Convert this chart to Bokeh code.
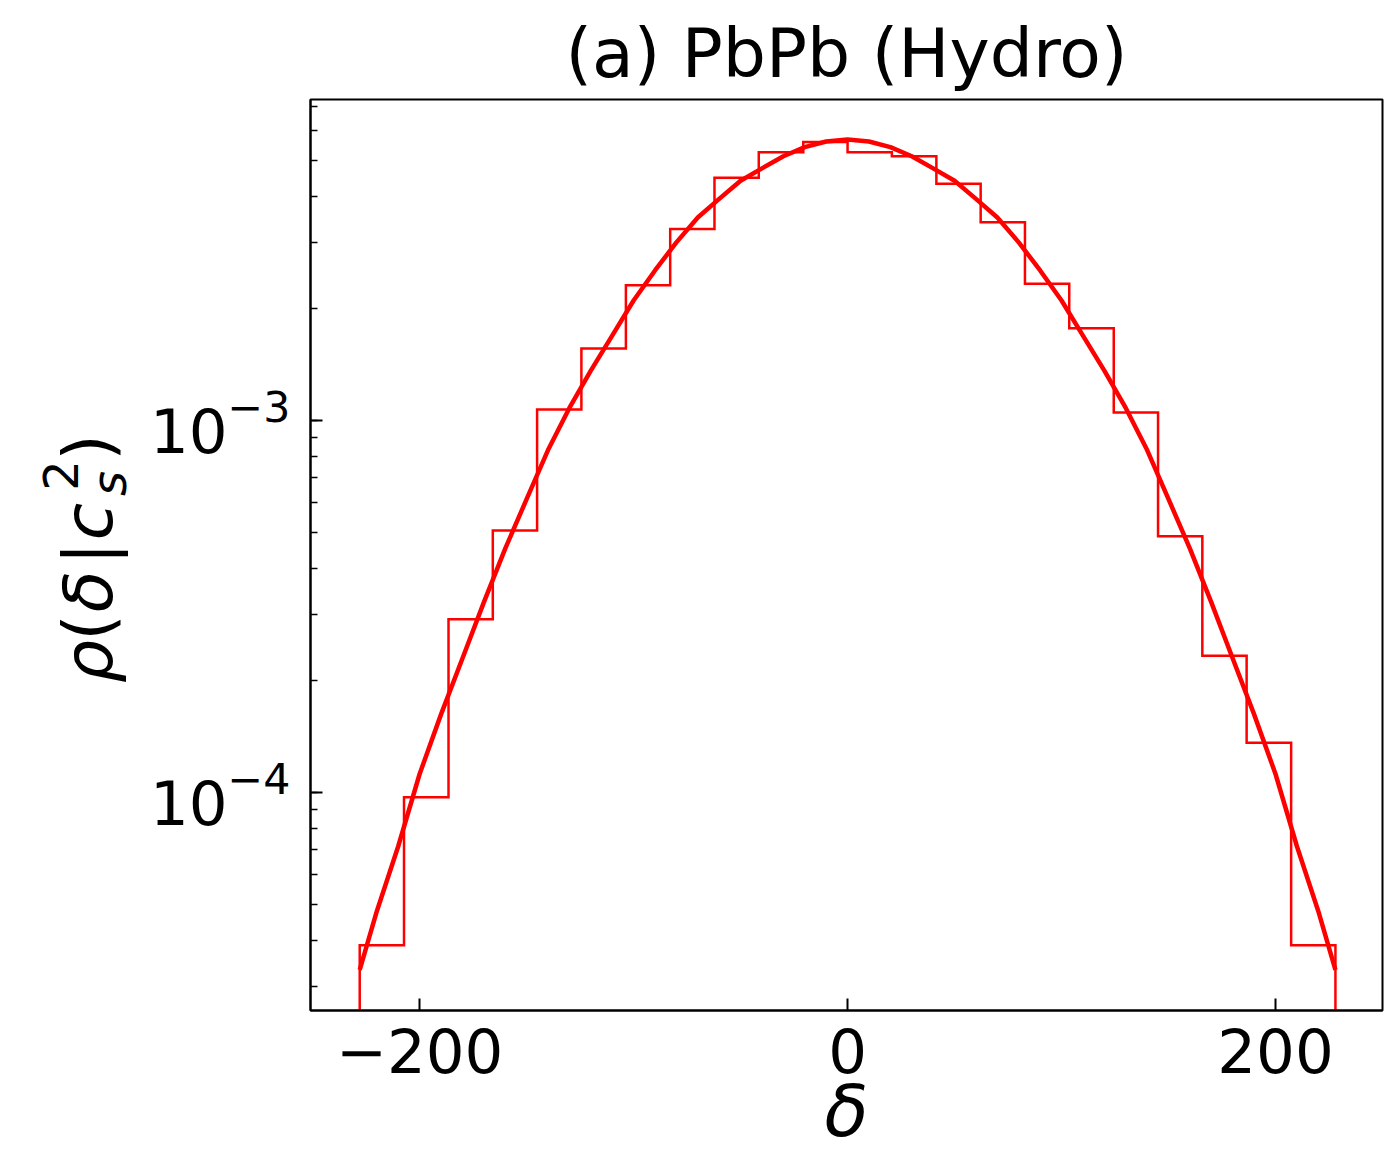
import math
from bokeh.plotting import figure
from bokeh.layouts import row
from bokeh.models import Range1d, Label, FixedTicker
from bokeh.embed import file_html
from bokeh.resources import INLINE

# ---------------- data ----------------
BIN_EDGES = [-228.0, -207.3, -186.5, -165.8, -145.1, -124.4, -103.6, -82.9, -62.2, -41.5, -20.7,
             0.0, 20.7, 41.5, 62.2, 82.9, 103.6, 124.4, 145.1, 165.8, 186.5, 207.3, 228.0]
HIST_DENSITY = [3.88e-5, 9.7e-5, 2.92e-4, 5.06e-4, 1.07e-3, 1.56e-3, 2.31e-3, 3.27e-3, 4.49e-3, 5.26e-3, 5.60e-3,
                5.26e-3, 5.13e-3, 4.33e-3, 3.41e-3, 2.33e-3, 1.77e-3, 1.05e-3, 4.88e-4, 2.33e-4, 1.36e-4, 3.88e-5]

CURVE_X = [-228, -220, -210, -200, -190, -180, -170, -160, -150, -140, -130, -120, -110, -100, -90, -80,
           -70, -60, -50, -40, -30, -20, -10, 0, 10, 20, 30, 40, 50, 60, 70, 80, 90, 100, 110, 120, 130,
           140, 150, 160, 170, 180, 190, 200, 210, 220, 228]
CURVE_Y = [3.33e-5, 4.79e-5, 7.16e-5, 1.12e-4, 1.62e-4, 2.29e-4, 3.24e-4, 4.52e-4, 6.14e-4, 8.32e-4,
           1.08e-3, 1.36e-3, 1.69e-3, 2.10e-3, 2.53e-3, 3.01e-3, 3.51e-3, 3.94e-3, 4.41e-3, 4.76e-3,
           5.13e-3, 5.43e-3, 5.62e-3, 5.69e-3, 5.62e-3, 5.43e-3, 5.13e-3, 4.76e-3, 4.41e-3, 3.94e-3,
           3.51e-3, 3.01e-3, 2.53e-3, 2.10e-3, 1.69e-3, 1.36e-3, 1.08e-3, 8.32e-4, 6.14e-4, 4.52e-4,
           3.24e-4, 2.29e-4, 1.62e-4, 1.12e-4, 7.16e-5, 4.79e-5, 3.33e-5]

X_TICKS = [-200, 0, 200]
X_TICK_LABELS = ["\u2212200", "0", "200"]

TITLE = "(a) PbPb (Hydro)"
X_LABEL = "\u03b4"

X_START, X_END = -251.0, 250.0
Y_START, Y_END = 2.59e-5, 7.29e-3

# ---------------- layout ----------------
TOTAL_W, TOTAL_H = 1384, 1157
LEFT_W = 140                      # strip holding the rotated y label
FL, FR, FT, FB = 310, 1382, 99, 1010   # frame in page pixels
FONT = "DejaVu Sans"
RED = "#ff0000"

W = TOTAL_W - LEFT_W
p = figure(width=W, height=TOTAL_H, x_range=Range1d(X_START, X_END), y_range=Range1d(Y_START, Y_END),
           y_axis_type="log", output_backend="svg", toolbar_location=None,
           min_border_left=FL - LEFT_W, min_border_right=TOTAL_W - FR,
           min_border_top=FT, min_border_bottom=TOTAL_H - FB)
p.xgrid.visible = False
p.ygrid.visible = False
p.outline_line_color = "black"
p.outline_line_width = 2
p.outline_line_alpha = 1.0
p.background_fill_color = "white"
p.border_fill_color = "white"

# title
p.title.text = TITLE
p.title.align = "center"
p.title.text_font = FONT
p.title.text_font_size = "68px"
p.title.text_font_style = "normal"
p.title.text_color = "black"
p.title.standoff = 13

# step histogram (edges drop to the baseline, clipped by the frame)
floor = 1e-7
hx, hy = [BIN_EDGES[0]], [floor]
for i, h in enumerate(HIST_DENSITY):
    hx += [BIN_EDGES[i], BIN_EDGES[i + 1]]
    hy += [h, h]
hx.append(BIN_EDGES[-1])
hy.append(floor)
p.line(hx, hy, line_color=RED, line_width=2.5, line_join="miter")

# smooth curve
p.line(CURVE_X, CURVE_Y, line_color=RED, line_width=4.5, line_join="round")

# axes styling
for ax in (p.xaxis[0], p.yaxis[0]):
    ax.axis_line_width = 2
    ax.axis_line_color = "black"
    ax.major_tick_in = 12
    ax.major_tick_out = 0
    ax.major_tick_line_width = 2
    ax.major_tick_line_color = "black"
    ax.minor_tick_in = 7
    ax.minor_tick_out = 0
    ax.minor_tick_line_width = 1.5
    ax.minor_tick_line_color = "black"
    ax.major_label_text_font = FONT
    ax.major_label_text_font_size = "61px"
    ax.major_label_text_color = "black"

p.xaxis.ticker = FixedTicker(ticks=X_TICKS)
p.xaxis.minor_tick_line_color = None
p.xaxis.major_label_overrides = {t: s for t, s in zip(X_TICKS, X_TICK_LABELS)}
p.xaxis.major_label_standoff = 17
p.yaxis.major_label_standoff = 20

p.xaxis.axis_label = X_LABEL
p.xaxis.axis_label_text_font = FONT
p.xaxis.axis_label_text_font_size = "72px"
p.xaxis.axis_label_text_font_style = "italic"
p.xaxis.axis_label_text_color = "black"
p.xaxis.axis_label_standoff = -7

# ---------------- left strip with the y label  rho(delta | c_s^2) ----------------
# the strip's frame is aligned with the main frame (FT..FB), so its y data equals page y
q = figure(width=LEFT_W, height=TOTAL_H, x_range=Range1d(0, LEFT_W), y_range=Range1d(FB, FT),
           output_backend="svg", toolbar_location=None,
           min_border_left=0, min_border_right=0, min_border_top=FT, min_border_bottom=TOTAL_H - FB)
q.axis.visible = False
q.grid.visible = False
q.outline_line_color = None
q.background_fill_color = "white"
q.border_fill_color = "white"

pieces = [  # text, centre along the label (page y), centre across (page x), size, style
    ("\u03c1", 661, 88, 68, "italic"),
    ("(", 627, 88, 68, "normal"),
    ("\u03b4", 591, 88, 68, "italic"),
    ("|", 553, 88, 68, "normal"),
    ("c", 521, 88, 68, "italic"),
    ("2", 475, 60, 48, "normal"),
    ("s", 483, 108, 48, "italic"),
    (")", 447, 88, 68, "normal"),
]
for t, sy, sx, fs, st in pieces:
    q.add_layout(Label(x=sx, y=sy, text=t, angle=math.pi / 2, text_align="center",
                       text_baseline="middle", text_font=FONT, text_font_size=f"{fs}px",
                       text_font_style=st, text_color="black"))

layout = row(q, p, spacing=0)
open("out.html", "w").write(file_html(layout, INLINE))
